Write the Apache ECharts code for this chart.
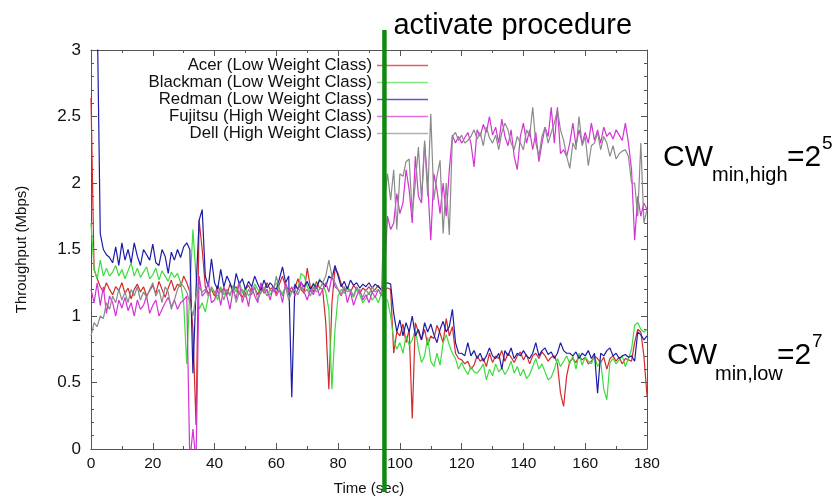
<!DOCTYPE html>
<html>
<head>
<meta charset="UTF-8">
<title>Throughput</title>
<style>
  html, body { margin: 0; padding: 0; background: #fff; }
  #main { width: 834px; height: 497px; }
</style>
</head>
<body>
<div id="main"></div>
<script src="https://cdn.jsdelivr.net/npm/echarts@6/dist/echarts.min.js"></script>
<script>
// throughput samples, one per second, t = 0..180
var seriesNames = ['Acer (Low Weight Class)', 'Blackman (Low Weight Class)', 'Redman (Low Weight Class)',
  'Fujitsu (High Weight Class)', 'Dell (High Weight Class)'];

var acer = [
  2.64, 1.35, 1.28, 1.22, 1.18, 1.25, 1.2, 1.16, 1.22, 1.19,
  1.25, 1.17, 1.21, 1.13, 1.2, 1.24, 1.18, 1.22, 1.15, 1.19,
  1.23, 1.17, 1.26, 1.2, 1.14, 1.21, 1.27, 1.19, 1.24, 1.22,
  1.3, 1.25, 1.18, 0.9, 0.18, 1.72, 1.5, 1.22, 1.17, 1.2,
  1.15, 1.23, 1.18, 1.21, 1.16, 1.24, 1.19, 1.22, 1.17, 1.14,
  1.2, 1.23, 1.18, 1.21, 1.16, 1.22, 1.19, 1.25, 1.2, 1.22,
  1.17, 1.24, 1.3, 1.22, 1.2, 1.18, 1.21, 1.28, 1.2, 1.17,
  1.36, 1.22, 1.18, 1.26, 1.21, 1.2, 0.95, 0.45, 1.1, 1.36,
  1.32, 1.24, 1.19, 1.22, 1.18, 1.23, 1.2, 1.17, 1.21, 1.19,
  1.22, 1.18, 1.2, 1.23, 1.19, 1.2, 1.21, 1.2, 0.72, 0.88,
  0.85, 0.94, 0.8, 0.9, 0.23, 0.95, 0.88, 0.82, 0.9, 0.78,
  0.85, 0.83, 0.93, 0.87, 0.8, 0.98, 0.85, 0.92, 0.72, 0.68,
  0.67, 0.64, 0.66, 0.6, 0.63, 0.7, 0.66, 0.68, 0.62, 0.72,
  0.65, 0.7, 0.68, 0.74, 0.66, 0.72, 0.69, 0.65, 0.7, 0.73,
  0.67, 0.71, 0.64, 0.7, 0.72, 0.68, 0.73, 0.7, 0.66, 0.69,
  0.7, 0.64, 0.42, 0.32, 0.55, 0.66, 0.68, 0.65, 0.7, 0.67,
  0.69, 0.64, 0.66, 0.7, 0.68, 0.65, 0.69, 0.6, 0.68, 0.7,
  0.66, 0.69, 0.64, 0.68, 0.67, 0.66, 0.8, 0.9, 0.88, 0.7, 0.4
];
var blackman = [
  1.7, 1.35, 1.28, 1.42, 1.3, 1.36, 1.3, 1.33, 1.38, 1.3,
  1.35, 1.28, 1.34, 1.4, 1.3, 1.36, 1.29, 1.33, 1.37, 1.28,
  1.31, 1.36, 1.27, 1.34, 1.3, 1.26, 1.33, 1.29, 1.32, 1.25,
  1.1, 0.64, 1.2, 1.65, 1.3, 1.05, 1.1, 1.03, 1.15, 1.2,
  1.18, 1.12, 1.22, 1.16, 1.2, 1.15, 1.23, 1.18, 1.26, 1.17,
  1.21, 1.15, 1.19, 1.24, 1.2, 1.17, 1.22, 1.18, 1.16, 1.21,
  1.25, 1.2, 1.17, 1.22, 1.16, 1.19, 1.23, 1.2, 1.32, 1.3,
  1.22, 1.18, 1.25, 1.2, 1.28, 1.24, 1.18, 1.05, 0.45, 0.9,
  1.15, 1.2, 1.17, 1.22, 1.18, 1.14, 1.2, 1.16, 1.1, 1.13,
  1.18, 1.12, 1.15, 1.1, 1.17, 1.13, 1.12, 1.0, 0.82, 0.75,
  0.8, 0.72, 0.85, 0.78, 0.82, 0.9, 0.76, 0.65, 0.7, 0.84,
  0.66, 0.62, 0.72, 0.63, 0.8, 0.86, 0.78, 0.72, 0.68, 0.6,
  0.65, 0.6, 0.56, 0.62, 0.58, 0.57, 0.6, 0.64, 0.52, 0.6,
  0.55, 0.64, 0.58, 0.61, 0.56, 0.6, 0.66, 0.57, 0.62, 0.55,
  0.6, 0.53, 0.56, 0.62, 0.68, 0.6, 0.64, 0.58, 0.52, 0.54,
  0.6, 0.68, 0.62, 0.66, 0.7, 0.64, 0.7, 0.6, 0.72, 0.63,
  0.69, 0.66, 0.64, 0.7, 0.62, 0.66, 0.45, 0.37, 0.65, 0.68,
  0.64, 0.67, 0.7, 0.62, 0.68, 0.75, 0.93, 0.95, 0.9, 0.88, 0.9
];
var redman = [
  3.5, 3.5, 3.3, 1.62, 1.5, 1.46, 1.44, 1.4, 1.52, 1.38,
  1.55, 1.42, 1.5, 1.4, 1.55, 1.45, 1.38, 1.5, 1.46, 1.42,
  1.54, 1.4, 1.38, 1.5, 1.45, 1.32, 1.48, 1.42, 1.5, 1.44,
  1.52, 1.55, 1.5, 0.57, 1.2, 1.72, 1.8, 1.3, 1.22, 1.43,
  1.25, 1.2, 1.35, 1.22, 1.3, 1.25, 1.18, 1.32, 1.24, 1.28,
  1.2, 1.26, 1.22, 1.3, 1.24, 1.19, 1.27, 1.21, 1.25, 1.22,
  1.2, 1.28, 1.37, 1.25, 1.3, 0.39, 1.24, 1.2, 1.25, 1.22,
  1.26, 1.2, 1.24, 1.21, 1.27, 1.25, 1.22, 1.3, 1.28, 1.38,
  1.3, 1.22, 1.26, 1.2, 1.27, 1.23, 1.25, 1.21, 1.24, 1.22,
  1.25, 1.21, 1.24, 1.22, 1.2, 1.24, 1.25, 1.24, 1.02, 0.88,
  0.97, 0.85, 0.95, 0.88, 1.0, 0.85, 0.9, 0.82, 0.95, 0.88,
  0.94, 0.86, 0.8, 0.9, 0.96, 0.88, 0.92, 1.05, 0.8, 0.72,
  0.72, 0.7, 0.8, 0.7, 0.74, 0.68, 0.72, 0.66, 0.7, 0.76,
  0.7, 0.68, 0.72, 0.6, 0.74, 0.7, 0.76, 0.68, 0.72, 0.7,
  0.74, 0.7, 0.68, 0.72, 0.8, 0.7, 0.74, 0.76, 0.71, 0.73,
  0.68, 0.72, 0.8, 0.74, 0.72, 0.72, 0.7, 0.73, 0.68, 0.72,
  0.7, 0.74, 0.68, 0.72, 0.42, 0.72, 0.7, 0.74, 0.76, 0.7,
  0.72, 0.68, 0.7, 0.71, 0.69, 0.7, 0.66, 0.88, 0.86, 0.82, 0.85
];
var fujitsu = [
  1.2, 1.1, 1.25, 1.08, 1.22, 1.02, 1.15, 1.1, 1.0, 1.12,
  1.06, 1.14, 1.04, 1.1, 1.0, 1.12, 1.05, 1.08, 1.15, 1.02,
  1.08, 1.12, 1.0, 1.05, 1.1, 1.14, 1.07, 1.12, 1.05, 1.1,
  1.12, 1.15, -0.1, 0.15, -0.1, 1.3, 1.15, 1.18, 1.25, 1.1,
  1.12, 1.2, 1.08, 1.22, 1.15, 1.05, 1.2, 1.13, 1.25, 1.1,
  1.18, 1.07, 1.22, 1.15, 1.1, 1.25, 1.17, 1.2, 1.12, 1.22,
  1.15, 1.2, 1.1, 1.25, 1.18, 1.22, 1.15, 1.2, 1.26, 1.18,
  1.12, 1.2, 1.16, 1.23, 1.15, 1.2, 1.25, 1.18, 1.3, 1.22,
  1.2, 1.15, 1.22, 1.1, 1.18, 1.08, 1.15, 1.2, 1.12, 1.16,
  1.1, 1.18, 1.14, 1.2, 1.16, 1.3, 1.75, 1.65, 1.7, 1.92,
  1.77, 1.85, 2.1, 1.95, 1.7, 2.2, 1.9, 1.85, 2.3, 2.0,
  1.57, 2.07, 1.95, 1.77, 2.0, 1.75, 2.1, 2.36, 2.3, 2.35,
  2.3, 2.34, 2.38, 2.3, 2.12, 2.4, 2.35, 2.44, 2.38, 2.5,
  2.36, 2.42, 2.3, 2.48, 2.35, 2.28, 2.4, 2.2, 2.1, 2.35,
  2.45, 2.3, 2.4, 2.25, 2.38, 2.16, 2.3, 2.42, 2.35, 2.57,
  2.3, 2.57, 2.22, 2.25, 2.2, 2.3, 2.45, 2.28, 2.4, 2.3,
  2.38, 2.3, 2.45, 2.32, 2.4, 2.3, 2.42, 2.35, 2.38, 2.33,
  2.4, 2.36, 2.32, 2.45, 2.3, 2.1, 1.57, 1.9, 1.75, 1.85, 1.8
];
var dell = [
  0.85, 0.95, 0.92, 1.0, 0.98, 1.1, 1.05, 1.15, 1.1, 1.2,
  1.12, 1.18, 1.1, 1.2, 1.15, 1.22, 1.12, 1.18, 1.14, 1.2,
  1.25, 1.15, 1.2, 1.1, 1.22, 1.18, 1.05, 1.12, 1.2, 1.25,
  1.22, 1.18, 1.1, 1.0, 1.15, 1.22, 1.18, 1.2, 1.15, 1.22,
  1.18, 1.15, 1.2, 1.12, 1.2, 1.16, 1.22, 1.1, 1.18, 1.2,
  1.14, 1.2, 1.16, 1.22, 1.12, 1.18, 1.2, 1.15, 1.2, 1.18,
  1.3, 1.2, 1.15, 1.22, 1.12, 1.18, 1.2, 1.16, 1.22, 1.18,
  1.2, 1.15, 1.22, 1.18, 1.2, 1.25, 1.3, 1.42, 1.3, 1.25,
  1.2, 1.16, 1.22, 1.18, 1.2, 1.15, 1.22, 1.18, 1.14, 1.2,
  1.16, 1.22, 1.18, 1.2, 1.15, 1.87, 2.07, 1.87, 2.1, 1.65,
  2.07, 2.05, 2.16, 2.18, 1.77, 2.0, 2.27, 1.87, 2.32, 1.9,
  2.52, 1.87, 2.05, 2.17, 1.62, 2.0, 1.61, 2.35, 2.38, 2.32,
  2.36, 2.3, 2.32, 2.35, 2.4, 2.33, 2.38, 2.28, 2.42, 2.34,
  2.3, 2.36, 2.25, 2.38, 2.45, 2.4, 2.3, 2.25, 2.35, 2.3,
  2.25, 2.4, 2.35, 2.57, 2.3, 2.2, 2.35, 2.42, 2.3, 2.38,
  2.45, 2.55, 2.4, 2.32, 2.2, 2.11, 2.3, 2.25, 2.5, 2.28,
  2.35, 2.13, 2.28, 2.3, 2.38, 2.25, 2.35, 2.3, 2.2, 2.28,
  2.18, 2.22, 2.24, 2.25, 2.2, 2.0, 2.0, 1.75, 2.3, 1.7, 1.8
];
var colors = ['#d42a2a', '#3ddc3d', '#1c1ca8', '#d233d2', '#8a8a8a'];
var legendColors = ['#e06060', '#80e880', '#5a5ac8', '#e070e0', '#b0b0b0'];
var activateTime = 95;

var font = 'Liberation Sans, Arial, sans-serif';
var myChart = echarts.init(document.getElementById('main'));

function pairs(vals) {
  return vals.map(function (v, i) { return [i, v]; });
}

var allData = [acer, blackman, redman, fujitsu, dell];

function frame(split) {
  return {
    axisLine: { show: true, onZero: false, lineStyle: { color: '#555', width: 1 } },
    axisTick: { show: true, inside: true, length: 6, lineStyle: { color: '#555' } },
    minorTick: { show: true, splitNumber: split, length: 3, lineStyle: { color: '#555' } },
    splitLine: { show: false },
    minorSplitLine: { show: false }
  };
}

myChart.setOption({
  animation: false,
  textStyle: { fontFamily: font },
  grid: { left: 91, right: 187, top: 50, bottom: 48, outerBoundsMode: 'none', containLabel: false },
  legend: {
    orient: 'vertical',
    right: 401,
    top: 52,
    align: 'right',
    icon: 'rect',
    itemWidth: 51,
    itemHeight: 1.5,
    itemGap: 0,
    textStyle: { fontSize: 16.8, color: '#111', fontFamily: font, lineHeight: 17 },
    data: seriesNames.map(function (n, i) {
      return { name: n, itemStyle: { color: legendColors[i] } };
    })
  },
  xAxis: [
    Object.assign({
      type: 'value', min: 0, max: 180, interval: 20,
      name: 'Time (sec)', nameLocation: 'middle', nameGap: 32,
      nameTextStyle: { fontSize: 15, color: '#111', fontFamily: font },
      axisLabel: { fontSize: 15.5, color: '#111', margin: 7, fontFamily: font }
    }, frame(2)),
    Object.assign({
      type: 'value', min: 0, max: 180, interval: 20, position: 'top',
      axisLabel: { show: false }
    }, frame(2))
  ],
  yAxis: [
    Object.assign({
      type: 'value', min: 0, max: 3, interval: 0.5,
      name: 'Throughput (Mbps)', nameLocation: 'middle', nameGap: 62,
      nameTextStyle: { fontSize: 15, color: '#111', fontFamily: font },
      axisLabel: { fontSize: 17, color: '#111', margin: 10, fontFamily: font }
    }, frame(5)),
    Object.assign({
      type: 'value', min: 0, max: 3, interval: 0.5, position: 'right',
      axisLabel: { show: false }
    }, frame(5))
  ],
  series: allData.map(function (vals, i) {
    return {
      name: seriesNames[i],
      type: 'line',
      xAxisIndex: 0,
      yAxisIndex: 0,
      data: pairs(vals),
      showSymbol: false,
      symbol: 'none',
      clip: true,
      color: colors[i],
      lineStyle: { width: 1.2, color: colors[i] },
      emphasis: { disabled: true }
    };
  })
});

// vertical marker and annotations, placed through the axis scale
var lineX = myChart.convertToPixel({ xAxisIndex: 0 }, activateTime);
var big = { fontSize: 30, fill: '#000', fontFamily: font };
var sub = { fontSize: 20, fill: '#000', fontFamily: font };
var sup = { fontSize: 19, fill: '#000', fontFamily: font };

myChart.setOption({
  graphic: [
    {
      type: 'line', z: 100,
      shape: { x1: lineX, y1: 30, x2: lineX, y2: 492 },
      style: { stroke: '#0f8a0f', lineWidth: 4.5 }
    },
    {
      type: 'text', z: 100, left: lineX + 9, top: 11,
      style: { text: 'activate procedure', fontSize: 29, fill: '#000', fontFamily: font }
    },
    { type: 'text', x: 663, y: 158, style: Object.assign({ text: 'CW', verticalAlign: 'middle' }, big) },
    { type: 'text', x: 712, y: 175, style: Object.assign({ text: 'min,high', verticalAlign: 'middle' }, sub) },
    { type: 'text', x: 787, y: 158, style: Object.assign({ text: '=2', verticalAlign: 'middle' }, big) },
    { type: 'text', x: 822, y: 144, style: Object.assign({ text: '5', verticalAlign: 'middle' }, sup) },
    { type: 'text', x: 667, y: 356, style: Object.assign({ text: 'CW', verticalAlign: 'middle' }, big) },
    { type: 'text', x: 715, y: 374, style: Object.assign({ text: 'min,low', verticalAlign: 'middle' }, sub) },
    { type: 'text', x: 777, y: 356, style: Object.assign({ text: '=2', verticalAlign: 'middle' }, big) },
    { type: 'text', x: 812, y: 342, style: Object.assign({ text: '7', verticalAlign: 'middle' }, sup) }
  ]
});
</script>
</body>
</html>
